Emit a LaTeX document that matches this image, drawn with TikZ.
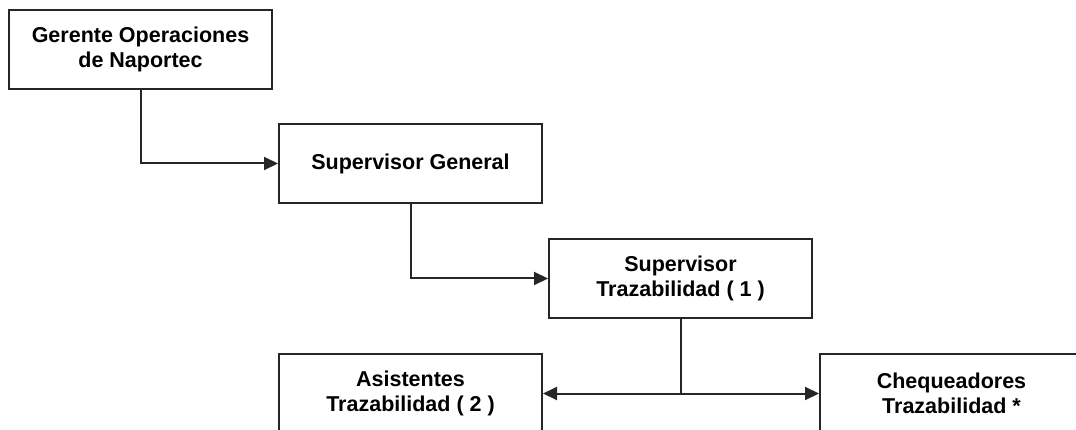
\documentclass[tikz,border=0pt]{standalone}
\usepackage{fontspec}
\setmainfont{Liberation Sans}
\usetikzlibrary{arrows.meta}
\begin{document}
\begin{tikzpicture}[x=1pt,y=-1pt,
  orgbox/.style={draw=black!85, line width=2pt, fill=white, minimum width=263pt,
    minimum height=79pt, inner sep=0pt, align=center,
    font=\bfseries\fontsize{21.5}{25.5}\selectfont},
  wire/.style={draw=black!85, line width=2pt},
  link/.style={wire, -{Triangle[length=14pt,width=13pt]}}]
\useasboundingbox (0,0) rectangle (1076,430);
\clip (0,0) rectangle (1076,430);
\fill[white] (0,0) rectangle (1076,430);

\node[orgbox] (gerente) at (140.5,49.5) {Gerente Operaciones\\de Naportec};
\node[orgbox] (general) at (410.5,163.5) {Supervisor General};
\node[orgbox] (traza) at (680.5,278.5) {Supervisor\\Trazabilidad ( 1 )};
\node[orgbox] (asist) at (410.5,393.5) {Asistentes\\Trazabilidad ( 2 )};
\node[orgbox] (cheq) at (951.5,393.5) {Chequeadores\\Trazabilidad *};

\draw[link] (gerente.south) |- (general.west);
\draw[link] (general.south) |- (traza.west);
\coordinate (split) at (traza.south |- asist.east);
\draw[wire] (traza.south) -- (split);
\draw[link] (split) -- (asist.east);
\draw[link] (split) -- (cheq.west);
\end{tikzpicture}
\end{document}
